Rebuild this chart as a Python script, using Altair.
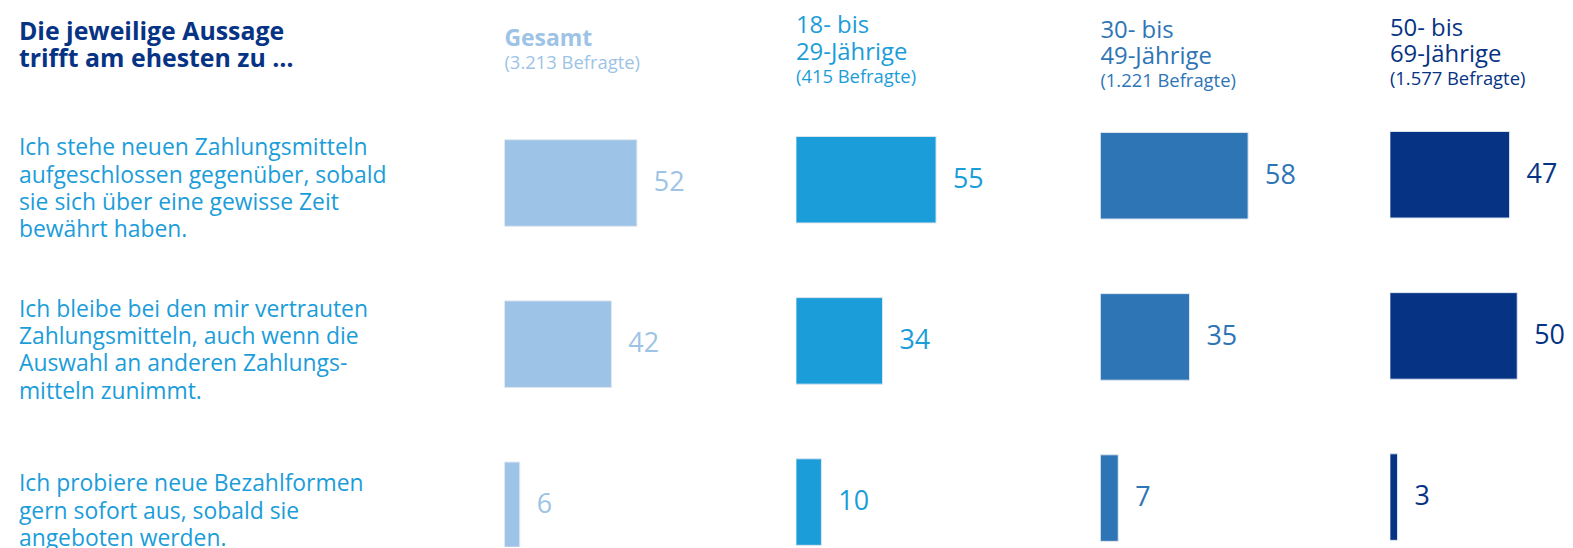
import altair as alt
import pandas as pd

# ---------------- data ----------------
STATEMENTS = [
    "Ich stehe neuen Zahlungsmitteln\naufgeschlossen gegenüber, sobald\nsie sich über eine gewisse Zeit\nbewährt haben.",
    "Ich bleibe bei den mir vertrauten\nZahlungsmitteln, auch wenn die\nAuswahl an anderen Zahlungs-\nmitteln zunimmt.",
    "Ich probiere neue Bezahlformen\ngern sofort aus, sobald sie\nangeboten werden.",
]
GROUP_TITLES = [["Gesamt"], ["18- bis", "29-Jährige"], ["30- bis", "49-Jährige"], ["50- bis", "69-Jährige"]]
GROUP_SUBTITLES = ["(3.213 Befragte)", "(415 Befragte)", "(1.221 Befragte)", "(1.577 Befragte)"]
VALUES_GESAMT = [52, 42, 6]
VALUES_18_29 = [55, 34, 10]
VALUES_30_49 = [58, 35, 7]
VALUES_50_69 = [47, 50, 3]
TITLE_LINES = ["Die jeweilige Aussage", "trifft am ehesten zu …"]

ALL_VALUES = [VALUES_GESAMT, VALUES_18_29, VALUES_30_49, VALUES_50_69]

# ---------------- styling ----------------
FONT = "Open Sans"
COLORS = ["#9dc3e6", "#1b9dd9", "#2e75b6", "#063384"]
LABEL_COLOR = "#1b9dd9"
TITLE_COLOR = "#063384"
PX_PER_UNIT = 2.56
H = 540
STEP = 162
BAND = 87
P_IN = 1 - BAND / STEP
LEFT_W = 499
PANEL_W = [293, 306, 291, 168]
ROW_TOP = [93.5, 90.2, 86.2, 85.2]           # top of band range per panel
HEAD_Y = [[37], [24, 51], [29, 55], [27, 53]]
SUB_Y = [60, 74, 78, 76]
HEAD_BOLD = [True, False, False, False]
LINE_H = 27.5


def row_scale(r0):
    return alt.Scale(range=[r0, r0 + 3 * STEP], paddingInner=P_IN, paddingOuter=P_IN / 2)


rows_df = pd.DataFrame({"row": [0, 1, 2], "label": STATEMENTS})


def label_layer(n_lines):
    return alt.Chart(rows_df).transform_calculate(
        n="length(split(datum.label, '\\n'))"
    ).transform_filter(
        f"datum.n == {n_lines}"
    ).mark_text(
        font=FONT, fontSize=23, color=LABEL_COLOR, align="left",
        baseline="middle", lineBreak="\n", lineHeight=LINE_H,
        dy=-(n_lines - 1) * LINE_H / 2,
    ).encode(
        y=alt.Y("row:O", scale=row_scale(100), axis=None),
        x=alt.value(11),
        text="label:N",
    )


left = alt.layer(
    alt.Chart(alt.Data(values=[{}])).mark_text(
        font=FONT, fontSize=25, fontWeight="bold", color=TITLE_COLOR,
        align="left", baseline="alphabetic", lineHeight=27
    ).encode(text=alt.value(TITLE_LINES), x=alt.value(11), y=alt.value(31)),
    label_layer(4),
    label_layer(3),
).properties(width=LEFT_W, height=H)

panels = []
for i, vals in enumerate(ALL_VALUES):
    df = pd.DataFrame({"row": [0, 1, 2], "value": vals})
    xs = alt.Scale(domain=[0, PANEL_W[i] / PX_PER_UNIT], nice=False)
    ys = row_scale(ROW_TOP[i])
    bars = alt.Chart(df).mark_bar(
        color=COLORS[i], stroke="#dfe6ef", strokeWidth=1, clip=True
    ).encode(
        x=alt.X("value:Q", scale=xs, axis=None),
        y=alt.Y("row:O", scale=ys, axis=None),
    )
    labels = alt.Chart(df).mark_text(
        font=FONT, fontSize=27, color=COLORS[i], align="left", baseline="middle", dx=17
    ).encode(
        x=alt.X("value:Q", scale=xs, axis=None),
        y=alt.Y("row:O", scale=ys, axis=None),
        text="value:Q",
    )
    layers = [bars, labels]
    for line, yy in zip(GROUP_TITLES[i], HEAD_Y[i]):
        layers.append(
            alt.Chart(alt.Data(values=[{}])).mark_text(
                font=FONT, fontSize=23 if HEAD_BOLD[i] else 24,
                fontWeight="bold" if HEAD_BOLD[i] else "normal",
                color=COLORS[i], align="left", baseline="alphabetic"
            ).encode(text=alt.value(line), x=alt.value(0), y=alt.value(yy))
        )
    layers.append(
        alt.Chart(alt.Data(values=[{}])).mark_text(
            font=FONT, fontSize=18.5, color=COLORS[i], align="left", baseline="alphabetic"
        ).encode(text=alt.value(GROUP_SUBTITLES[i]), x=alt.value(0), y=alt.value(SUB_Y[i]))
    )
    panels.append(alt.layer(*layers).properties(width=PANEL_W[i], height=H))

chart = alt.hconcat(left, *panels, spacing=0, bounds="flush").properties(
    padding=0, background="white"
).configure_view(stroke="transparent", strokeWidth=0)

chart.save("out.html", embed_options={"renderer": "svg", "actions": False})
